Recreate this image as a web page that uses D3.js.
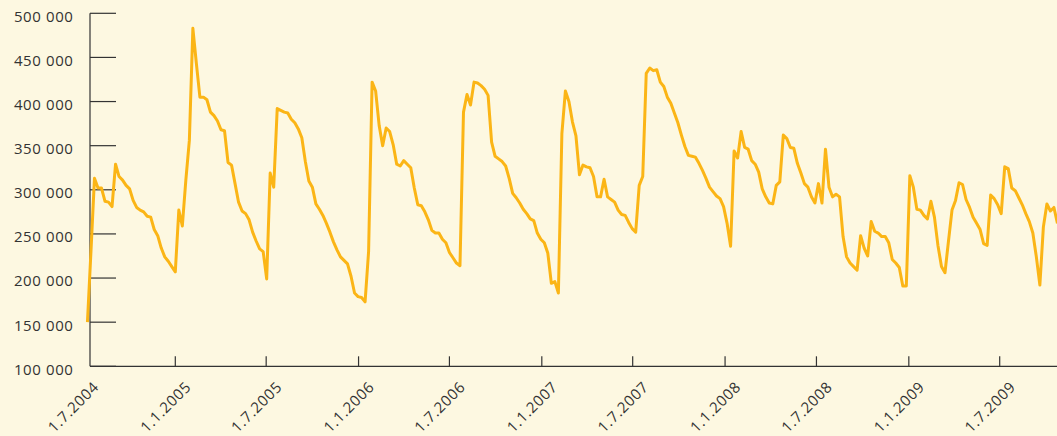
<!DOCTYPE html>
<html lang="fi">
<head>
  <meta charset="UTF-8">
  <title>Weekly series 2004-2009</title>
  <script src="https://d3js.org/d3.v7.min.js"></script>
  <style>
    body {
      margin: 0;
      background: #fdf8e1;
    }
    svg {
      display: block;
      font-family: "Open Sans", sans-serif;
    }
    .axis line,
    .axis path {
      stroke: #333;
      stroke-width: 1.2px;
      fill: none;
    }
    .tick-label {
      font-size: 15px;
      fill: #333;
      letter-spacing: 0.6px;
    }
    .series {
      fill: none;
      stroke: #fbb516;
      stroke-width: 3px;
      stroke-linejoin: round;
    }
  </style>
</head>
<body>
  <svg id="chart" width="1057" height="436"></svg>

  <script>
    // first week of the series, one value per week after it
    const firstWeek = "2004-07-10";

    const weeklyValues = [
      150000, 230000, 313000, 302000, 302000, 287000, 286000, 281000, 329000, 315000,
      311000, 305000, 301000, 288000, 280000, 277000, 275000, 270000, 269000, 255000,
      248000, 234000, 224000, 219000, 213000, 207000, 277000, 259000, 311000, 356000,
      483000, 443000, 405000, 405000, 402000, 388000, 384000, 378000, 368000, 367000,
      331000, 328000, 307000, 286000, 276000, 273000, 266000, 252000, 242000, 233000,
      230000, 199000, 319000, 303000, 392000, 390000, 388000, 387000, 380000, 376000,
      369000, 359000, 332000, 310000, 303000, 284000, 278000, 271000, 262000, 252000,
      241000, 232000, 224000, 220000, 216000, 202000, 183000, 179000, 178000, 173000,
      230000, 422000, 412000, 373000, 350000, 370000, 366000, 351000, 329000, 327000,
      333000, 329000, 325000, 302000, 283000, 282000, 275000, 266000, 254000, 251000,
      251000, 244000, 240000, 229000, 223000, 217000, 214000, 388000, 408000, 396000,
      422000, 421000, 418000, 414000, 407000, 354000, 338000, 335000, 332000, 327000,
      313000, 296000, 291000, 285000, 278000, 273000, 267000, 265000, 251000, 244000,
      240000, 228000, 194000, 196000, 183000, 364000, 412000, 400000, 377000, 361000,
      317000, 328000, 326000, 325000, 315000, 292000, 292000, 312000, 292000, 289000,
      286000, 277000, 272000, 271000, 263000, 256000, 252000, 305000, 315000, 432000,
      438000, 435000, 436000, 422000, 417000, 405000, 398000, 387000, 376000, 362000,
      349000, 339000, 338000, 337000, 330000, 322000, 313000, 303000, 298000, 293000,
      290000, 281000, 262000, 236000, 344000, 336000, 366000, 348000, 346000, 333000,
      329000, 320000, 301000, 292000, 285000, 284000, 305000, 309000, 362000, 358000,
      348000, 347000, 330000, 319000, 307000, 303000, 292000, 285000, 307000, 285000,
      346000, 303000, 292000, 295000, 292000, 247000, 224000, 217000, 213000, 209000,
      248000, 234000, 225000, 264000, 253000, 251000, 247000, 247000, 240000, 221000,
      217000, 212000, 191000, 191000, 316000, 303000, 278000, 277000, 271000, 267000,
      287000, 269000, 237000, 213000, 206000, 242000, 277000, 288000, 308000, 306000,
      289000, 280000, 269000, 262000, 255000, 239000, 237000, 294000, 290000, 283000,
      273000, 326000, 324000, 302000, 299000, 291000, 283000, 273000, 264000, 251000,
      224000, 192000, 258000, 284000, 276000, 280000, 262000
    ];

    const yTicks = [100000, 150000, 200000, 250000, 300000, 350000, 400000, 450000, 500000];

    const xTickDates = [
      "2004-07-01", "2005-01-01", "2005-07-01", "2006-01-01", "2006-07-01", "2007-01-01",
      "2007-07-01", "2008-01-01", "2008-07-01", "2009-01-01", "2009-07-01"
    ];

    const width = 1057, height = 436;
    const axisX = 90, axisTop = 13.3, axisBottom = 366.3;

    const parse = d3.timeParse("%Y-%m-%d");
    const start = parse(firstWeek);
    const data = weeklyValues.map((v, i) => ({ date: d3.timeDay.offset(start, 7 * i), value: v }));
    const tickDates = xTickDates.map(parse);

    const x = d3.scaleTime()
      .domain([parse("2005-01-01"), parse("2009-07-01")])
      .range([175.3, 999.7]);

    const y = d3.scaleLinear()
      .domain([100000, 500000])
      .range([axisBottom, axisTop]);

    const fmt = d3.formatLocale({ decimal: ",", thousands: " ", grouping: [3], currency: ["", " €"] }).format(",d");
    const fmtDate = d3.timeFormat("%-d.%-m.%Y");

    const svg = d3.select("#chart");

    // y axis: line on the left, ticks pointing into the plot
    const yAxis = svg.append("g").attr("class", "axis");
    yAxis.append("line")
      .attr("x1", axisX).attr("x2", axisX)
      .attr("y1", y(500000)).attr("y2", y(100000));
    yAxis.selectAll(".ytick")
      .data(yTicks)
      .join("line")
      .attr("class", "ytick")
      .attr("x1", axisX).attr("x2", axisX + 26)
      .attr("y1", d => y(d)).attr("y2", d => y(d));
    svg.append("g").selectAll("text")
      .data(yTicks)
      .join("text")
      .attr("class", "tick-label")
      .attr("x", 73.5)
      .attr("y", d => y(d) + 8.4)
      .attr("text-anchor", "end")
      .text(d => fmt(d));

    // x axis
    const xAxis = svg.append("g").attr("class", "axis");
    xAxis.append("line")
      .attr("x1", axisX).attr("x2", width)
      .attr("y1", axisBottom).attr("y2", axisBottom);
    xAxis.selectAll(".xtick")
      .data(tickDates.filter(d => x(d) > axisX))
      .join("line")
      .attr("class", "xtick")
      .attr("x1", d => x(d)).attr("x2", d => x(d))
      .attr("y1", axisBottom - 10).attr("y2", axisBottom);
    svg.append("g").selectAll("text")
      .data(tickDates)
      .join("text")
      .attr("class", "tick-label")
      .attr("text-anchor", "end")
      .attr("dy", "0.35em")
      .attr("transform", d => `translate(${x(d) + 13},${axisBottom + 18}) rotate(-45)`)
      .text(d => fmtDate(d));

    // the series
    const line = d3.line()
      .x(d => x(d.date))
      .y(d => y(d.value));

    svg.append("path")
      .datum(data)
      .attr("class", "series")
      .attr("d", line);
  </script>
</body>
</html>
